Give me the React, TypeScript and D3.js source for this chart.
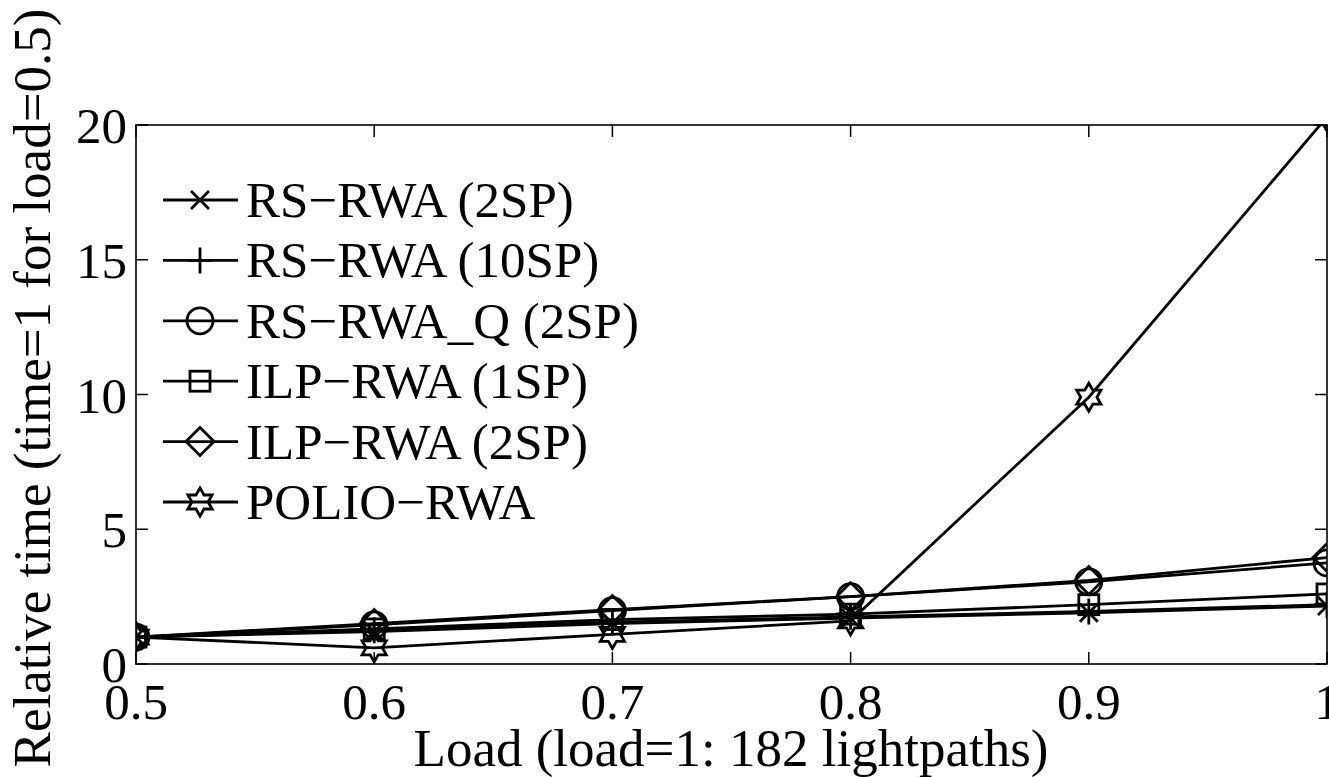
import React from 'react';
import * as d3 from 'd3';

const loads = [0.5, 0.6, 0.7, 0.8, 0.9, 1.0];
const rs2sp = [1, 1.2, 1.5, 1.7, 1.9, 2.15];
const rs10sp = [1, 1.25, 1.55, 1.75, 1.95, 2.2];
const rsQ2sp = [1, 1.45, 1.98, 2.5, 3.05, 3.75];
const ilp1sp = [1, 1.3, 1.65, 1.85, 2.2, 2.6];
const ilp2sp = [1, 1.5, 2.02, 2.5, 3.1, 3.95];
const polio = [1, 0.6, 1.1, 1.6, 9.9, 20.3];

const xTicks = [0.5, 0.6, 0.7, 0.8, 0.9, 1];
const yTicks = [0, 5, 10, 15, 20];

const series = [
  { name: 'RS\u2212RWA (2SP)', marker: 'x', values: rs2sp },
  { name: 'RS\u2212RWA (10SP)', marker: 'plus', values: rs10sp },
  { name: 'RS\u2212RWA_Q (2SP)', marker: 'circle', values: rsQ2sp },
  { name: 'ILP\u2212RWA (1SP)', marker: 'square', values: ilp1sp },
  { name: 'ILP\u2212RWA (2SP)', marker: 'diamond', values: ilp2sp },
  { name: 'POLIO\u2212RWA', marker: 'star', values: polio },
];

const W = 1329;
const H = 777;
const FONT = '"Liberation Serif", "Times New Roman", serif';
const LW = 2.8;

const x = d3.scaleLinear().domain([0.5, 1]).range([136, 1327]);
const y = d3.scaleLinear().domain([0, 20]).range([664, 125]);

// marker outline centred on (cx, cy)
const Marker = ({ type, cx, cy }: { type: string; cx: number; cy: number }) => {
  const s = { fill: 'none', stroke: '#000', strokeWidth: LW };
  const t = `translate(${cx},${cy})`;
  if (type === 'x') {
    const r = 9;
    return <path transform={t} d={`M${-r},${-r}L${r},${r}M${-r},${r}L${r},${-r}`} {...s} />;
  }
  if (type === 'plus') {
    const r = 13;
    return <path transform={t} d={`M${-r},0L${r},0M0,${-r}L0,${r}`} {...s} />;
  }
  if (type === 'circle') return <circle cx={cx} cy={cy} r={13} {...s} />;
  if (type === 'square') return <rect x={cx - 10} y={cy - 10} width={20} height={20} {...s} />;
  if (type === 'diamond') {
    const r = 14;
    return <path transform={t} d={`M0,${-r}L${r},0L0,${r}L${-r},0Z`} {...s} />;
  }
  // hexagram
  const r = 14;
  const pts: number[][] = [];
  for (let i = 0; i < 6; i++) {
    const a = -Math.PI / 2 + (i * Math.PI) / 3;
    pts.push([r * Math.cos(a), r * Math.sin(a)]);
    const b = a + Math.PI / 6;
    const ri = r / Math.sqrt(3);
    pts.push([ri * Math.cos(b), ri * Math.sin(b)]);
  }
  return <path transform={t} d={'M' + pts.map(p => p.join(',')).join('L') + 'Z'} {...s} />;
};

const App = () => {
  const line = d3.line<number>()
    .x((_, i) => x(loads[i]))
    .y(d => y(d));

  const legendY = (i: number) => 200 + i * 60.4;

  return (
    <svg width={W} height={H} style={{ position: 'absolute', left: 0, top: 0, background: '#fff' }}>
      <defs>
        <clipPath id="plot">
          <rect x={136} y={125} width={1191} height={539} />
        </clipPath>
      </defs>
      <rect x={0} y={0} width={W} height={H} fill="#fff" />

      {/* data */}
      <g clipPath="url(#plot)">
        {series.map(s => (
          <g key={s.name}>
            <path d={line(s.values) || ''} fill="none" stroke="#000" strokeWidth={LW} />
            {s.values.map((v, i) => (
              <Marker key={i} type={s.marker} cx={x(loads[i])} cy={y(v)} />
            ))}
          </g>
        ))}
      </g>

      {/* axes box */}
      <rect x={136} y={125} width={1191} height={539} fill="none" stroke="#000" strokeWidth={1.6} />
      {xTicks.map(t => (
        <g key={'xt' + t}>
          <line x1={x(t)} x2={x(t)} y1={664} y2={652} stroke="#000" strokeWidth={1.5} />
          <line x1={x(t)} x2={x(t)} y1={125} y2={137} stroke="#000" strokeWidth={1.5} />
          <text x={x(t)} y={719} textAnchor="middle" fontFamily={FONT} fontSize={51}>{t === 1 ? '1' : t.toFixed(1)}</text>
        </g>
      ))}
      {yTicks.map(t => (
        <g key={'yt' + t}>
          <line x1={136} x2={148} y1={y(t)} y2={y(t)} stroke="#000" strokeWidth={1.5} />
          <line x1={1327} x2={1315} y1={y(t)} y2={y(t)} stroke="#000" strokeWidth={1.5} />
          <text x={127} y={y(t) + 18} textAnchor="end" fontFamily={FONT} fontSize={51}>{t}</text>
        </g>
      ))}

      {/* legend */}
      {series.map((s, i) => (
        <g key={'lg' + i}>
          <line x1={163} x2={238} y1={legendY(i)} y2={legendY(i)} stroke="#000" strokeWidth={LW} />
          <Marker type={s.marker} cx={200} cy={legendY(i)} />
          <text x={246} y={legendY(i) + 17} fontFamily={FONT} fontSize={51}>{s.name}</text>
        </g>
      ))}

      {/* axis labels */}
      <text x={731} y={766} textAnchor="middle" fontFamily={FONT} fontSize={53}>Load (load=1: 182 lightpaths)</text>
      <text transform="translate(50,388) rotate(-90)" textAnchor="middle" fontFamily={FONT} fontSize={53}>Relative time (time=1 for load=0.5)</text>
    </svg>
  );
};

export default App;
